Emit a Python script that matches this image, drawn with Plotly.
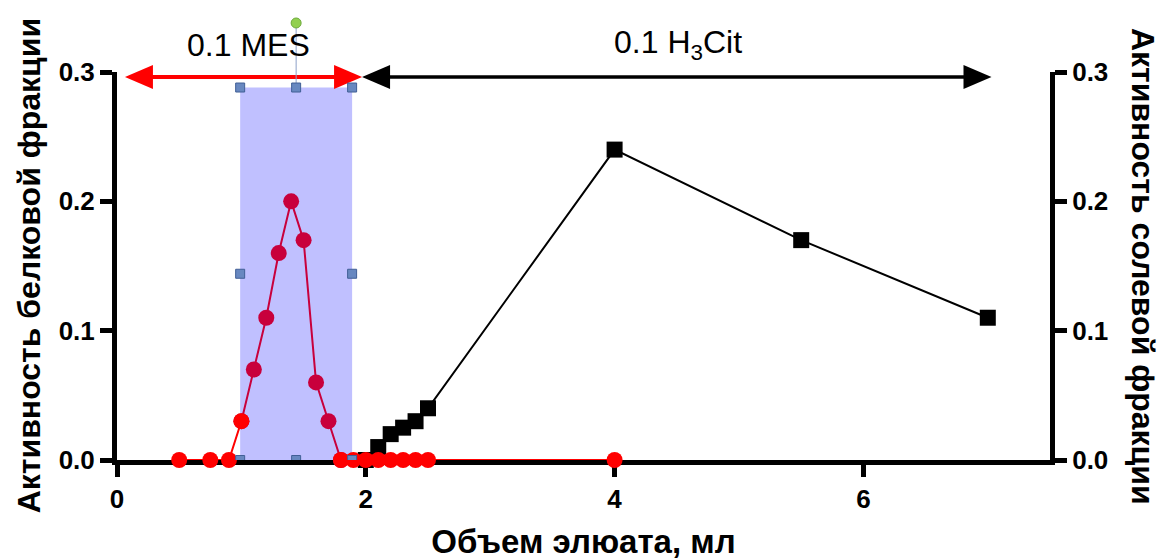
import plotly.graph_objects as go

# ---- data ----
protein_peak_x = [1.0, 1.1, 1.2, 1.3, 1.4, 1.5, 1.6, 1.7, 1.8]
protein_peak_y = [0.03, 0.07, 0.11, 0.16, 0.20, 0.17, 0.06, 0.03, 0.0]
protein_base_x = [0.5, 0.75, 0.9, 1.0, None, 1.8, 1.9, 2.0, 2.1, 2.2, 2.3, 2.4, 2.5, 4.0]
protein_base_y = [0.0, 0.0, 0.0, 0.03, None, 0.0, 0.0, 0.0, 0.0, 0.0, 0.0, 0.0, 0.0, 0.0]
salt_x = [2.0, 2.1, 2.2, 2.3, 2.4, 2.5, 4.0, 5.5, 7.0]
salt_y = [0.0, 0.01, 0.02, 0.025, 0.03, 0.04, 0.24, 0.17, 0.11]
x_ticks = [0, 2, 4, 6]
y_ticks = [0.0, 0.1, 0.2, 0.3]
y_tick_labels = ["0.0", "0.1", "0.2", "0.3"]

# annotation positions (x in data units, y in paper units)
mes_span = [0.064, 1.97]
cit_span = [1.97, 7.03]
arrow_y = 0.987
label_y = 1.07
sel_x = [0.99, 1.44, 1.89]
sel_y = [0.0, 0.144, 0.288]
sel_top_paper = 0.9588

CRIMSON = "rgb(200,0,60)"
RED = "rgb(255,0,0)"
FONT = "Liberation Sans"

fig = go.Figure()
fig.add_trace(go.Scatter(x=salt_x, y=salt_y, mode="lines+markers", yaxis="y2",
                         line=dict(color="black", width=2),
                         marker=dict(color="black", size=16, symbol="square"),
                         cliponaxis=False, showlegend=False))
fig.add_trace(go.Scatter(x=protein_peak_x, y=protein_peak_y, mode="lines+markers", yaxis="y",
                         line=dict(color=CRIMSON, width=2),
                         marker=dict(color=CRIMSON, size=16, symbol="circle"),
                         cliponaxis=False, showlegend=False))
fig.add_trace(go.Scatter(x=protein_base_x, y=protein_base_y, mode="lines+markers", yaxis="y",
                         line=dict(color=RED, width=2),
                         marker=dict(color=RED, size=16, symbol="circle"),
                         connectgaps=False, cliponaxis=False, showlegend=False))

shapes = []
# selection rectangle
shapes.append(dict(type="rect", xref="x", yref="y2", x0=sel_x[0], x1=sel_x[2], y0=sel_y[0], y1=sel_y[2],
                   fillcolor="rgb(192,192,255)", line=dict(width=0), layer="below"))
# arrows
shapes.append(dict(type="line", xref="x", yref="paper", x0=mes_span[0] + 0.1, x1=mes_span[1] - 0.1,
                   y0=arrow_y, y1=arrow_y, line=dict(color=RED, width=4)))
shapes.append(dict(type="line", xref="x", yref="paper", x0=cit_span[0] + 0.1, x1=cit_span[1] - 0.1,
                   y0=arrow_y, y1=arrow_y, line=dict(color="black", width=3.5)))

def head(xa, color, direction):
    d = direction
    return dict(type="path", xref="x", yref="paper", xsizemode="pixel", ysizemode="pixel",
                xanchor=xa, yanchor=arrow_y,
                path=f"M 0 0 L {-28*d} 12 L {-28*d} -12 Z",
                fillcolor=color, line=dict(width=0))

shapes.append(head(cit_span[0], "black", -1))
shapes.append(head(cit_span[1], "black", 1))
shapes.append(head(mes_span[0], RED, -1))
shapes.append(head(mes_span[1], RED, 1))

# rotation handle
shapes.append(dict(type="path", xref="x", yref="paper", xsizemode="pixel", ysizemode="pixel",
                   xanchor=sel_x[1], yanchor=sel_top_paper, path="M 0 0 L 0 61",
                   line=dict(color="rgb(140,160,200)", width=1)))
shapes.append(dict(type="circle", xref="x", yref="paper", xsizemode="pixel", ysizemode="pixel",
                   xanchor=sel_x[1], yanchor=sel_top_paper, x0=-5, x1=5, y0=60, y1=70,
                   fillcolor="rgb(146,208,80)", line=dict(color="rgb(110,170,60)", width=1)))
# sizing handles
for hx in sel_x:
    for hy in sel_y:
        if hx == sel_x[1] and hy == sel_y[1]:
            continue
        shapes.append(dict(type="rect", xref="x", yref="y", xsizemode="pixel", ysizemode="pixel",
                           xanchor=hx, yanchor=hy, x0=-4.5, x1=4.5, y0=-4.5, y1=4.5,
                           fillcolor="rgb(104,136,192)", line=dict(color="rgb(65,95,150)", width=1)))

annotations = [
    dict(x=(mes_span[0] + mes_span[1]) / 2 + 0.04, y=label_y, xref="x", yref="paper", text="0.1 MES",
         showarrow=False, xanchor="center", yanchor="middle",
         font=dict(family=FONT, size=32, color="black")),
    dict(x=4.51, y=label_y, xref="x", yref="paper", text="0.1 H<sub>3</sub>Cit",
         showarrow=False, xanchor="center", yanchor="middle",
         font=dict(family=FONT, size=32, color="black")),
    dict(x=-0.094, y=0.5, xref="paper", yref="paper", text="Активность белковой фракции",
         textangle=-90, showarrow=False, xanchor="center", yanchor="middle",
         font=dict(family=FONT, size=32, color="black", weight="bold")),
    dict(x=1.0997, y=0.5, xref="paper", yref="paper", text="Активность солевой фракции",
         textangle=90, showarrow=False, xanchor="center", yanchor="middle",
         font=dict(family=FONT, size=32, color="black", weight="bold")),
]

tickfont = dict(family=FONT, size=26, color="black", weight="bold")
axis_common = dict(showline=True, linecolor="black", linewidth=5, ticks="outside",
                   ticklen=12, tickwidth=5, tickcolor="black", showgrid=False,
                   zeroline=False, tickfont=tickfont, layer="below traces", automargin=False)

fig.update_layout(
    width=1160, height=560,
    margin=dict(l=117, r=110, t=72, b=100),
    paper_bgcolor="white", plot_bgcolor="white",
    xaxis=dict(range=[0, 7.5], tickvals=x_ticks, ticktext=[str(v) for v in x_ticks],
               title=dict(text="Объем элюата, мл", standoff=20,
                          font=dict(family=FONT, size=33, color="black", weight="bold")),
               **axis_common),
    # left axis (protein) is drawn over the right-axis (salt) layer
    yaxis=dict(range=[0, 0.3], tickvals=y_ticks, ticktext=y_tick_labels, overlaying="y2",
               side="left", anchor="x", **axis_common),
    yaxis2=dict(range=[0, 0.3], tickvals=y_ticks, ticktext=y_tick_labels,
                side="right", anchor="x", **axis_common),
    shapes=shapes, annotations=annotations, showlegend=False,
)

fig.write_html("out.html")
